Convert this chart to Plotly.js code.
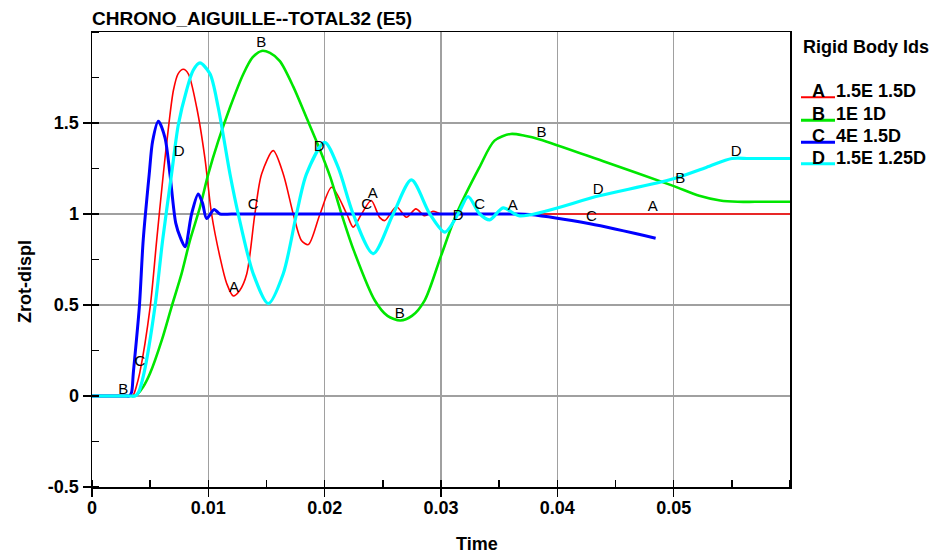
<!DOCTYPE html>
<html>
<head>
<meta charset="utf-8">
<script src="https://cdn.plot.ly/plotly-3.0.1.min.js"></script>
<style>html,body{margin:0;padding:0;background:#fff;}#chart{width:938px;height:553px;}</style>
</head>
<body>
<div id="chart"></div>
<script>
// ---- data ----
const seriesNames = ["A", "B", "C", "D"];
const seriesDesc = ["1.5E 1.5D", "1E 1D", "4E 1.5D", "1.5E 1.25D"];

const aX = [0, 0.0020, 0.0031, 0.0034, 0.0036, 0.0038, 0.0041, 0.0050, 0.00556, 0.00613, 0.0066, 0.0070, 0.0074, 0.00785, 0.00828, 0.0090, 0.0097, 0.01028, 0.0110, 0.01157, 0.01214, 0.0127, 0.0133, 0.0140, 0.01458, 0.01558, 0.01644, 0.0173, 0.0180, 0.0186, 0.0196, 0.0206, 0.0219, 0.02245, 0.02317, 0.0240, 0.02474, 0.02517, 0.02617, 0.02703, 0.02784, 0.0286, 0.0293, 0.0300, 0.0320, 0.0400, 0.0500, 0.0600];
const aY = [0, 0, 0, 0, 0.012, 0.05, 0.126, 0.49, 0.855, 1.22, 1.49, 1.68, 1.77, 1.795, 1.77, 1.585, 1.31, 1.0, 0.763, 0.62, 0.55, 0.58, 0.67, 1.0, 1.22, 1.348, 1.22, 1.0, 0.855, 0.832, 1.0, 1.147, 1.0, 0.928, 1.0, 1.074, 0.98, 0.964, 1.04, 0.982, 1.028, 0.99, 1.015, 1.0, 1.0, 1.0, 1.0, 1.0];

const bX = [0, 0.0020, 0.0033, 0.0036, 0.0039, 0.0044, 0.0050, 0.0060, 0.00684, 0.0077, 0.00842, 0.00928, 0.0100, 0.01085, 0.01186, 0.0130, 0.0138, 0.01458, 0.0153, 0.01615, 0.0173, 0.0185, 0.01953, 0.0205, 0.02145, 0.0225, 0.0243, 0.0254, 0.0265, 0.0275, 0.0286, 0.0300, 0.03133, 0.0333, 0.0346, 0.0360, 0.0372, 0.0385, 0.0442, 0.0499, 0.0522, 0.0540, 0.0555, 0.0570, 0.0600];
const bY = [0, 0, 0, 0, 0.01, 0.05, 0.126, 0.307, 0.49, 0.672, 0.855, 1.037, 1.22, 1.40, 1.585, 1.768, 1.86, 1.896, 1.885, 1.84, 1.70, 1.52, 1.363, 1.20, 1.0, 0.80, 0.526, 0.44, 0.415, 0.44, 0.526, 0.77, 1.0, 1.256, 1.403, 1.44, 1.43, 1.41, 1.284, 1.156, 1.10, 1.074, 1.067, 1.067, 1.067];

const cX = [0, 0.0020, 0.0029, 0.0032, 0.0034, 0.00355, 0.00407, 0.0044, 0.00492, 0.00521, 0.0057, 0.00627, 0.0067, 0.0072, 0.0076, 0.0080, 0.00856, 0.00913, 0.0095, 0.00985, 0.0105, 0.0110, 0.0120, 0.0150, 0.0250, 0.0350, 0.0365, 0.0376, 0.0428, 0.04845];
const cY = [0, 0, 0, 0, 0.02, 0.126, 0.49, 0.855, 1.22, 1.40, 1.51, 1.42, 1.22, 0.95, 0.87, 0.82, 1.0, 1.11, 1.06, 0.975, 1.025, 1.0, 1.0, 1.0, 1.0, 1.0, 1.0, 0.997, 0.946, 0.867];

const dX = [0, 0.0020, 0.0034, 0.0037, 0.0040, 0.00447, 0.00541, 0.00607, 0.00684, 0.00742, 0.00813, 0.0087, 0.00928, 0.01014, 0.01085, 0.01186, 0.01257, 0.01386, 0.01515, 0.01644, 0.01758, 0.01844, 0.0200, 0.02116, 0.02245, 0.02417, 0.02589, 0.02746, 0.02904, 0.03033, 0.03147, 0.03233, 0.03333, 0.03419, 0.03534, 0.03677, 0.0436, 0.0499, 0.0528, 0.0550, 0.0565, 0.0600];
const dY = [0, 0, 0, 0, 0.02, 0.126, 0.49, 0.855, 1.22, 1.49, 1.68, 1.79, 1.83, 1.77, 1.585, 1.22, 1.0, 0.672, 0.508, 0.672, 1.0, 1.22, 1.393, 1.256, 1.0, 0.782, 1.0, 1.187, 1.0, 0.90, 1.0, 1.096, 1.0, 0.968, 1.034, 0.99, 1.10, 1.192, 1.256, 1.305, 1.305, 1.305];

// curve letter labels
const labAX = [0.0122, 0.02414, 0.03617, 0.0482, 0.06022];
const labAY = [0.593, 1.110, 1.044, 1.038, 1.038];
const labBX = [0.00269, 0.01454, 0.02646, 0.03863, 0.05057];
const labBY = [0.033, 1.938, 0.451, 1.443, 1.191];
const labCX = [0.00412, 0.01386, 0.0236, 0.03333, 0.04293];
const labCY = [0.188, 1.049, 1.049, 1.049, 0.982];
const labDX = [0.0075, 0.01953, 0.03147, 0.0435, 0.05538];
const labDY = [1.342, 1.366, 0.989, 1.132, 1.337];

const xTickVals = [0, 0.01, 0.02, 0.03, 0.04, 0.05];
const xTickText = ["0", "0.01", "0.02", "0.03", "0.04", "0.05"];
const yTickVals = [-0.5, 0, 0.5, 1, 1.5];
const yTickText = ["-0.5", "0", "0.5", "1", "1.5"];

// ---- styling ----
const FONT = "Liberation Sans, Arial, sans-serif";
const colors = ["#ff0000", "#00e600", "#0000ff", "#00ffff"];
const widths = [1.6, 2.6, 3, 3.2];
const xs = [aX, bX, cX, dX], ys = [aY, bY, cY, dY];
const lxs = [labAX, labBX, labCX, labDX], lys = [labAY, labBY, labCY, labDY];

const traces = [];
for (let i = 0; i < 4; i++) {
  traces.push({
    x: xs[i], y: ys[i], type: "scatter", mode: "lines",
    name: seriesNames[i] + " " + seriesDesc[i],
    line: {color: colors[i], width: widths[i], shape: "spline", smoothing: 0.8},
    hoverinfo: "skip", showlegend: false
  });
}
for (let i = 0; i < 4; i++) {
  traces.push({
    x: lxs[i], y: lys[i], type: "scatter", mode: "text",
    text: lxs[i].map(() => seriesNames[i]),
    textposition: "middle center",
    textfont: {family: FONT, size: 15, color: "#000"},
    cliponaxis: false, hoverinfo: "skip", showlegend: false
  });
}

const L = 92, PW = 698, T = 32, PH = 455;
const px = v => (v - L) / PW;
const py = v => (T + PH - v) / PH;

const annotations = [
  {text: "<b>Rigid Body Ids</b>", xref: "paper", yref: "paper", x: px(801), y: py(47),
   xanchor: "left", yanchor: "middle", showarrow: false, font: {family: FONT, size: 18, color: "#000"}},
  {text: "<b>Time</b>", xref: "paper", yref: "paper", x: px(477), y: py(544),
   xanchor: "center", yanchor: "middle", showarrow: false, font: {family: FONT, size: 18, color: "#000"}},
  {text: "<b>Zrot-displ</b>", xref: "paper", yref: "paper", x: px(25), y: py(282),
   xanchor: "center", yanchor: "middle", textangle: -90, showarrow: false, font: {family: FONT, size: 18, color: "#000"}}
];
const shapes = [];
const rowY = [91, 114, 136, 157.5];
for (let i = 0; i < 4; i++) {
  annotations.push({text: "<b>" + seriesNames[i] + "</b>", xref: "paper", yref: "paper", x: px(818.5), y: py(rowY[i]),
    xanchor: "center", yanchor: "middle", showarrow: false, font: {family: FONT, size: 18, color: "#000"}});
  annotations.push({text: "<b>" + seriesDesc[i] + "</b>", xref: "paper", yref: "paper", x: px(834), y: py(rowY[i]),
    xanchor: "left", yanchor: "middle", showarrow: false, font: {family: FONT, size: 18, color: "#000"}});
  shapes.push({type: "line", xref: "paper", yref: "paper", x0: px(801), x1: px(835),
    y0: py(rowY[i] + 6.3), y1: py(rowY[i] + 6.3), line: {color: colors[i], width: i === 0 ? 2 : 3}});
}

const axisCommon = {
  showline: true, linecolor: "#000", linewidth: 1.5, mirror: true,
  showgrid: true, gridcolor: "#a0a0a0", gridwidth: 1.5, zeroline: false,
  ticks: "outside", ticklen: 8, tickwidth: 1.5, tickcolor: "#000",
  tickfont: {family: FONT, size: 18, color: "#000", weight: "bold"},
  tickmode: "array"
};

const layout = {
  width: 938, height: 553,
  margin: {l: L, r: 938 - L - PW, t: T, b: 553 - T - PH, pad: 0},
  paper_bgcolor: "#fff", plot_bgcolor: "#fff",
  showlegend: false,
  title: {text: "<b>CHRONO_AIGUILLE--TOTAL32 (E5)</b>", xref: "paper", x: 0, xanchor: "left",
          yref: "container", y: 1 - 18.5 / 553, yanchor: "middle",
          font: {family: FONT, size: 19, color: "#000"}},
  xaxis: Object.assign({}, axisCommon, {
    range: [0, 0.06], tickvals: xTickVals, ticktext: xTickText, ticklabelstandoff: -4,
    minor: {tickmode: "linear", tick0: 0, dtick: 0.005, ticks: "inside", ticklen: 7, tickwidth: 1.5, tickcolor: "#000", showgrid: false}
  }),
  yaxis: Object.assign({}, axisCommon, {
    range: [-0.5, 2.0], tickvals: yTickVals, ticktext: yTickText,
    minor: {tickmode: "linear", tick0: 0, dtick: 0.25, ticks: "inside", ticklen: 7, tickwidth: 1.5, tickcolor: "#000", showgrid: false}
  }),
  annotations: annotations,
  shapes: shapes
};

Plotly.newPlot("chart", traces, layout, {displayModeBar: false, staticPlot: true});
</script>
</body>
</html>
